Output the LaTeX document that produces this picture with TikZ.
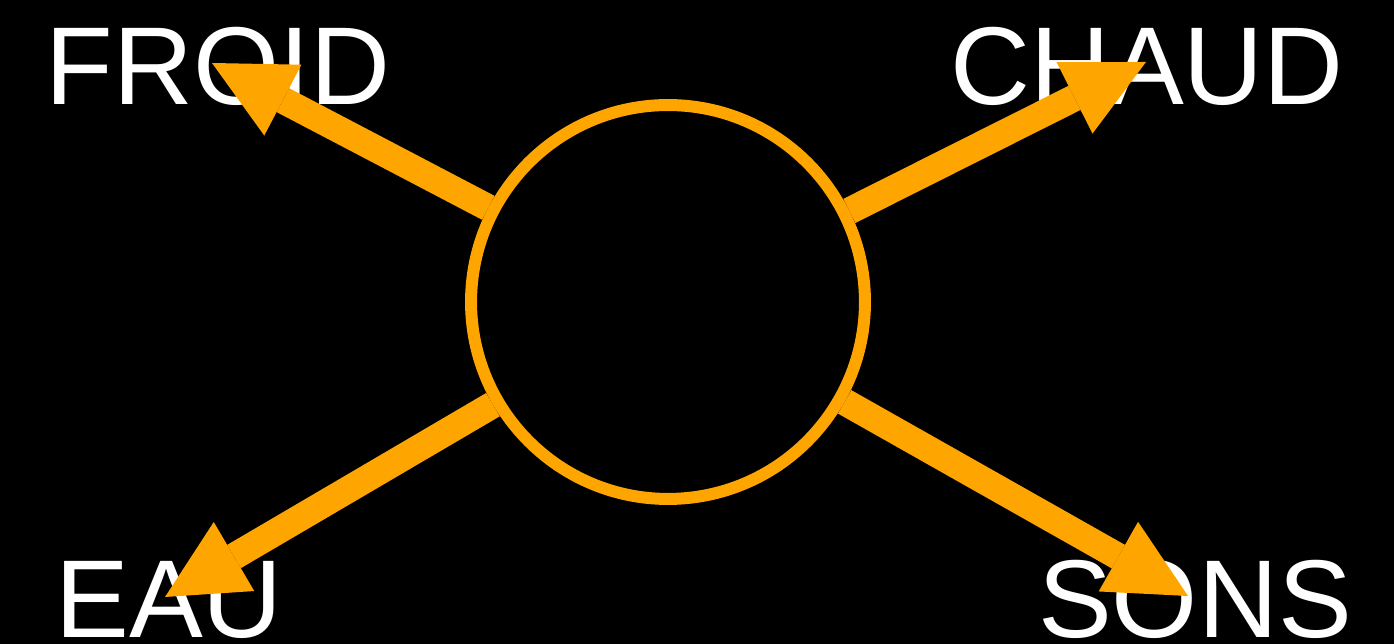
\documentclass[tikz,border=0pt]{standalone}
\usepackage{fontspec}
\setmainfont{Liberation Sans}
\usetikzlibrary{arrows.meta}
\definecolor{myorange}{RGB}{255,165,0}
\tikzset{
  arr/.style={draw=myorange, line width=0.54cm, -{Triangle[length=1.6cm,width=1.6cm,line width=0pt]}},
  lbl/.style={text=white, inner sep=0pt, outer sep=0pt, anchor=base, font=\fontsize{63pt}{63pt}\selectfont},
  ring/.style={circle, draw=myorange, line width=0.24cm, minimum size=7.88cm, inner sep=0pt}
}
\begin{document}
\begin{tikzpicture}[x=0.02cm, y=-0.02cm]
\fill[black] (0,0) rectangle (1394,644);
\useasboundingbox (0,0) rectangle (1394,644);
% labels
\node[lbl] (froid) at (218,105) {FROID};
\node[lbl] (chaud) at (1147,105) {CHAUD};
\node[lbl] (eau) at (169,638) {EAU};
\node[lbl] (sons) at (1195,638) {SONS};
% central ring
\node[ring] (c) at (668,302) {};
% arrow tips
\coordinate (tf) at (212,63);
\coordinate (tc) at (1146,62);
\coordinate (te) at (165,597);
\coordinate (ts) at (1188,596);
\draw[arr] (c) -- (tf);
\draw[arr] (c) -- (tc);
\draw[arr] (c) -- (te);
\draw[arr] (c) -- (ts);
\end{tikzpicture}
\end{document}
